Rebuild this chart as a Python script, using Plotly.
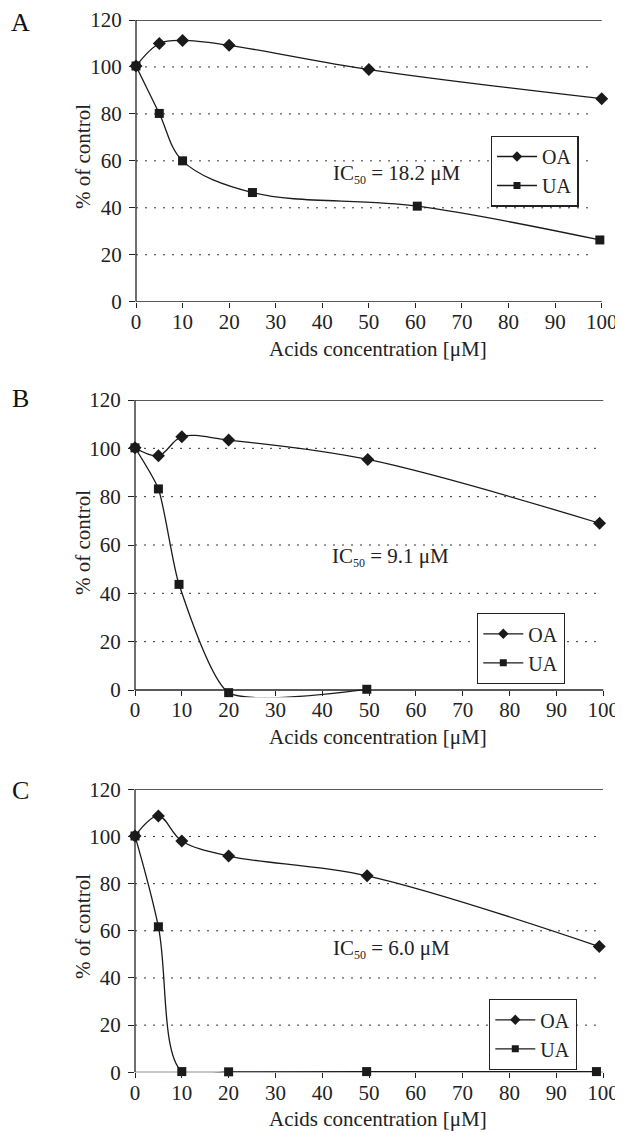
import plotly.graph_objects as go

# The page body has an 8px margin: figure pixel = page pixel - OFF
OFF = 8
W, H = 615, 1125
ML, MR, MT, MB = 127, 19, 12, 60

# ---- data ----
oa_x_A = [0, 5, 10, 20, 50, 100]
oa_y_A = [100.4, 110.0, 111.3, 109.2, 98.9, 86.5]
ua_x_A = [0, 5, 10, 25, 60.4, 99.6]
ua_y_A = [100.4, 80.2, 60.0, 46.5, 40.7, 26.3]

oa_x_B = [0, 5, 10, 20, 49.7, 99.2]
oa_y_B = [100.2, 96.9, 104.8, 103.4, 95.4, 69.0]
ua_x_B = [0, 5, 9.4, 20, 49.5]
ua_y_B = [100.2, 83.2, 43.7, -1.1, 0.3]

oa_x_C = [0, 5, 10, 20, 49.6, 99.2]
oa_y_C = [100.2, 108.7, 98.1, 91.7, 83.3, 53.3]
ua_x_C = [0, 5, 10, 20, 49.5, 98.6]
ua_y_C = [100.2, 61.7, 0.3, 0.2, 0.3, 0.3]

SUB = "<sub><span style='font-size:12px'>50</span></sub>"
ic50_labels = ["IC" + SUB + " = 18.2 μM", "IC" + SUB + " = 9.1 μM", "IC" + SUB + " = 6.0 μM"]
panel_letters = ["A", "B", "C"]
x_title = "Acids concentration [μM]"
y_title = "% of control"
x_ticks = list(range(0, 101, 10))
y_ticks = list(range(0, 121, 20))
grid_vals = list(range(20, 101, 20))

# ---- layout geometry (page pixels) ----
# y0/y1: pixel of value 120 / value 0; ymin: lower range bound
panels = [
    dict(x0=136, x1=601.7, y0=20, y1=301.7, ymin=0, leg=(490.7, 135.7), ic=(331, 174),
         let=(20, 22), yt=157, ua_smooth=1.0),
    dict(x0=135, x1=603.3, y0=400, y1=690, ymin=-3, leg=(477, 613), ic=(330, 557),
         let=(20, 398), yt=543, ua_smooth=0.6),
    dict(x0=135, x1=603.0, y0=789.3, y1=1072.3, ymin=0, leg=(489, 999), ic=(331, 949),
         let=(20, 790), yt=927, ua_smooth=1.0),
]
PW = W - ML - MR
PH = H - MT - MB
def clamp(v):
    return max(0.0, min(1.0, v))
def fx(px):
    return (px - OFF - ML) / PW
def fy(py):
    return 1 - (py - OFF - MT) / PH

FONT = "Liberation Serif, Times New Roman, serif"
FS = 21
INK = "#1a1a1a"
AX = "#222"
fig = go.Figure()
data = [
    (oa_x_A, oa_y_A, ua_x_A, ua_y_A),
    (oa_x_B, oa_y_B, ua_x_B, ua_y_B),
    (oa_x_C, oa_y_C, ua_x_C, ua_y_C),
]
for i, (ox, oy, ux, uy) in enumerate(data):
    n = "" if i == 0 else str(i + 1)
    leg = "legend" + n
    fig.add_trace(go.Scatter(x=ox, y=oy, mode="lines+markers", name="OA",
                             line=dict(color=INK, width=1.3, shape="spline", smoothing=1),
                             marker=dict(symbol="diamond", size=10, color=INK),
                             cliponaxis=False, xaxis="x" + n, yaxis="y" + n, showlegend=False))
    fig.add_trace(go.Scatter(x=ux, y=uy, mode="lines+markers", name="UA",
                             line=dict(color=INK, width=1.3, shape="spline",
                                       smoothing=panels[i]["ua_smooth"]),
                             marker=dict(symbol="square", size=9, color=INK),
                             cliponaxis=False, xaxis="x" + n, yaxis="y" + n, showlegend=False))
    # legend entries (smaller symbols as in the reference key)
    fig.add_trace(go.Scatter(x=[None], y=[None], mode="lines+markers", name="OA",
                             line=dict(color=INK, width=1.3),
                             marker=dict(symbol="diamond", size=8, color=INK),
                             xaxis="x" + n, yaxis="y" + n, legend=leg))
    fig.add_trace(go.Scatter(x=[None], y=[None], mode="lines+markers", name="UA",
                             line=dict(color=INK, width=1.3),
                             marker=dict(symbol="square", size=7, color=INK),
                             xaxis="x" + n, yaxis="y" + n, legend=leg))

layout = dict(width=W, height=H, margin=dict(l=ML, r=MR, t=MT, b=MB, autoexpand=False),
              plot_bgcolor="white", paper_bgcolor="white",
              font=dict(family=FONT, size=FS, color="#222"),
              showlegend=True, annotations=[], shapes=[])
for i, p in enumerate(panels):
    n = "" if i == 0 else str(i + 1)
    ppu = (p["y1"] - p["y0"]) / 120.0
    ybottom = p["y1"] - p["ymin"] * ppu
    layout["xaxis" + n] = dict(
        domain=[clamp(fx(p["x0"])), clamp(fx(p["x1"]))], range=[0, 100],
        anchor="free", position=clamp(fy(p["y1"])), automargin=False,
        tickvals=x_ticks, ticks="outside", ticklen=5, tickcolor=AX,
        showline=False, showgrid=False, zeroline=False, ticklabelstandoff=-4,
        tickfont=dict(size=FS))
    layout["yaxis" + n] = dict(
        domain=[clamp(fy(ybottom)), clamp(fy(p["y0"]))], anchor="x" + n, range=[p["ymin"], 120],
        automargin=False,
        tickvals=y_ticks, ticks="outside", ticklen=6, tickcolor=AX,
        showline=False, showgrid=False, zeroline=False, ticklabelstandoff=3,
        tickfont=dict(size=FS))
    # dotted horizontal gridlines
    for g in grid_vals:
        layout["shapes"].append(dict(
            type="line", xref="x" + n + " domain", yref="y" + n, x0=0, x1=0.985, y0=g, y1=g,
            layer="below", line=dict(color="#333", width=1, dash="2px,7px")))
    # axis line at 0 and top border line at 120
    for v in (0, 120):
        layout["shapes"].append(dict(
            type="line", xref="x" + n + " domain", yref="y" + n, x0=0, x1=1, y0=v, y1=v,
            layer="below", line=dict(color=AX, width=1.3)))
    # left axis line
    layout["shapes"].append(dict(
        type="line", xref="x" + n + " domain", yref="y" + n, x0=0, x1=0, y0=0, y1=120,
        layer="below", line=dict(color=AX, width=1.3)))
    layout["legend" + n] = dict(
        x=fx(p["leg"][0]), y=fy(p["leg"][1]), xanchor="left", yanchor="top",
        xref="paper", yref="paper",
        bgcolor="white", bordercolor=AX, borderwidth=1.3,
        font=dict(size=20), itemwidth=40, tracegroupgap=0)
    # axis titles
    layout["annotations"].append(dict(
        x=fx(378), y=fy(p["y1"] + 47), xref="paper", yref="paper",
        xanchor="center", yanchor="middle", text=x_title, showarrow=False,
        font=dict(size=FS)))
    layout["annotations"].append(dict(
        x=fx(83), y=fy(p["yt"]), xref="paper", yref="paper", textangle=-90,
        xanchor="center", yanchor="middle", text=y_title, showarrow=False,
        font=dict(size=FS)))
    layout["annotations"].append(dict(
        x=fx(p["ic"][0]), y=fy(p["ic"][1]), xref="paper", yref="paper",
        xanchor="left", yanchor="middle", text=ic50_labels[i], showarrow=False,
        font=dict(size=FS)))
    layout["annotations"].append(dict(
        x=fx(p["let"][0]), y=fy(p["let"][1]), xref="paper", yref="paper",
        xanchor="center", yanchor="middle", text=panel_letters[i],
        showarrow=False, font=dict(size=26, color="#111")))

fig.update_layout(**layout)
fig.write_html("out.html")
